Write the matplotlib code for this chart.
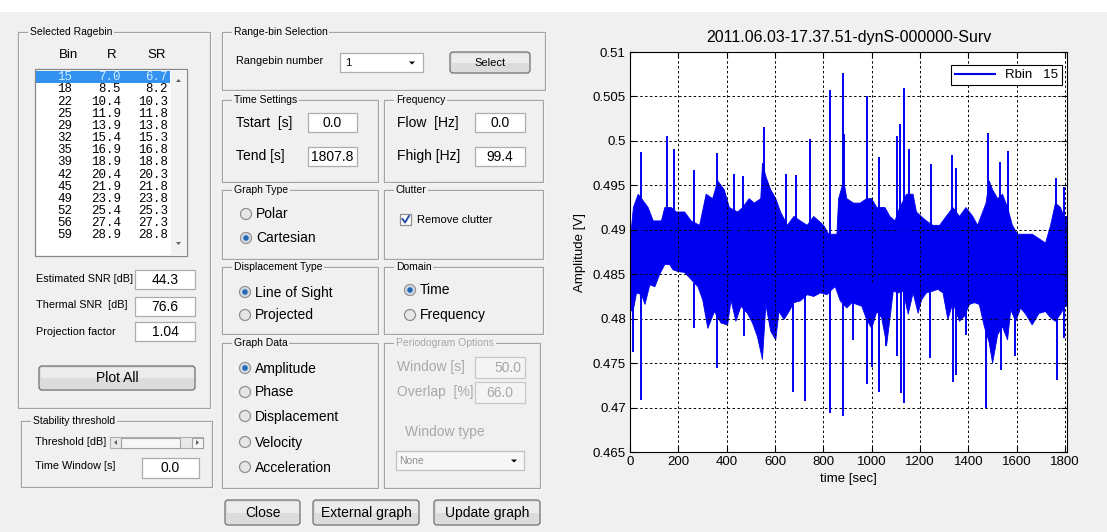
import numpy as np
import matplotlib
matplotlib.use("Agg")
import matplotlib.pyplot as plt
from matplotlib.patches import Rectangle, FancyBboxPatch, Circle, Polygon

plt.rcParams['font.family'] = ['Liberation Sans', 'DejaVu Sans']

# listbox content (Selected Ragebin)
bins = [15, 18, 22, 25, 29, 32, 35, 39, 42, 45, 49, 52, 56, 59]
r_vals = [7.0, 8.5, 10.4, 11.9, 13.9, 15.4, 16.9, 18.9, 20.4, 21.9, 23.9, 25.4, 27.4, 28.9]
sr_vals = [6.7, 8.2, 10.3, 11.8, 13.8, 15.3, 16.8, 18.8, 20.3, 21.8, 23.8, 25.3, 27.3, 28.8]

est_snr = "44.3"
thermal_snr = "76.6"
proj_factor = "1.04"
t_start, t_end = "0.0", "1807.8"
f_low, f_high = "0.0", "99.4"
time_window = "0.0"
pg_window, pg_overlap = "50.0", "66.0"

# signal: upper / lower envelope of the dense trace
up_t = [0, 14, 34, 48, 75, 96, 130, 144, 171, 192, 226, 253, 288, 315, 342, 363, 390, 411,
        445, 466, 493, 514, 541, 548, 562, 582, 603, 623, 651, 678, 705, 733, 760, 801,
        822, 856, 863, 884, 897, 925, 952, 979, 1000, 1021, 1055, 1075, 1096, 1116, 1144,
        1171, 1185, 1205, 1226, 1253, 1281, 1308, 1336, 1363, 1390, 1418, 1438, 1473,
        1486, 1500, 1521, 1541, 1562, 1582, 1603, 1637, 1664, 1692, 1719, 1740, 1760,
        1781, 1795, 1807.8]
up_v = [0.4885, 0.4925, 0.494, 0.4935, 0.4925, 0.491, 0.491, 0.4925, 0.4925, 0.492, 0.492,
        0.491, 0.4905, 0.494, 0.4935, 0.4955, 0.4945, 0.4925, 0.492, 0.4925, 0.4935, 0.493,
        0.4935, 0.4975, 0.496, 0.4945, 0.4935, 0.492, 0.4905, 0.4915, 0.491, 0.4905, 0.4915,
        0.4905, 0.4895, 0.4895, 0.4935, 0.4955, 0.4935, 0.493, 0.493, 0.4935, 0.4935,
        0.4925, 0.4925, 0.4915, 0.491, 0.4925, 0.494, 0.494, 0.492, 0.4915, 0.491, 0.4905,
        0.4905, 0.4915, 0.4925, 0.4915, 0.4925, 0.4915, 0.4905, 0.493, 0.4955, 0.4945,
        0.4935, 0.494, 0.4925, 0.4905, 0.4895, 0.4895, 0.4895, 0.489, 0.4885, 0.4905,
        0.493, 0.4925, 0.4915, 0.4915]
lo_t = [0, 14, 27, 48, 62, 82, 103, 123, 144, 164, 178, 199, 226, 253, 281, 301, 322, 349,
        377, 404, 418, 438, 459, 486, 507, 527, 548, 562, 582, 603, 616, 637, 658, 678, 705,
        733, 760, 788, 815, 836, 849, 870, 897, 918, 938, 959, 979, 1000, 1021, 1041, 1062,
        1075, 1089, 1110, 1130, 1151, 1171, 1192, 1206, 1226, 1253, 1274, 1295, 1315, 1336,
        1363, 1384, 1404, 1425, 1445, 1466, 1486, 1500, 1521, 1541, 1562, 1575, 1596, 1616,
        1637, 1664, 1692, 1719, 1740, 1760, 1781, 1799, 1807.8]
lo_v = [0.4808, 0.481, 0.4829, 0.4827, 0.4816, 0.4838, 0.4836, 0.485, 0.4861, 0.4861,
        0.4855, 0.4853, 0.4852, 0.4844, 0.4836, 0.4821, 0.4789, 0.4808, 0.4795, 0.4793,
        0.4821, 0.4797, 0.4814, 0.4806, 0.4795, 0.478, 0.4754, 0.4816, 0.4786, 0.4776,
        0.4808, 0.4799, 0.4808, 0.4818, 0.482, 0.4827, 0.4825, 0.4829, 0.4827, 0.4833,
        0.4836, 0.482, 0.4812, 0.4818, 0.4816, 0.4814, 0.4799, 0.4789, 0.4808, 0.4801,
        0.4771, 0.4799, 0.4831, 0.4829, 0.4831, 0.4805, 0.4829, 0.4806, 0.4821, 0.4829,
        0.4831, 0.4833, 0.4829, 0.4799, 0.4818, 0.4797, 0.4803, 0.4816, 0.4818, 0.4816,
        0.4791, 0.4773, 0.475, 0.4782, 0.4791, 0.4776, 0.481, 0.4797, 0.4812, 0.4805,
        0.4793, 0.4806, 0.4808, 0.4801, 0.4797, 0.4805, 0.4814, 0.4814]
spike_up_t = [45, 155, 182, 263, 358, 430, 468, 556, 645, 685, 744, 826, 881, 886, 979,
              1032, 1103, 1119, 1134, 1155, 1244, 1333, 1349, 1479, 1532, 1564, 1764, 1796]
spike_up_v = [0.4987, 0.5005, 0.4991, 0.4967, 0.4986, 0.4963, 0.496, 0.5016, 0.4963,
              0.4962, 0.5002, 0.5057, 0.5076, 0.5008, 0.505, 0.4982, 0.5006, 0.5019,
              0.5059, 0.4991, 0.4974, 0.4984, 0.497, 0.5009, 0.4976, 0.4989, 0.4958, 0.4948]
spike_dn_t = [11, 45, 264, 358, 470, 674, 726, 826, 882, 921, 981, 1000, 1032, 1058, 1103,
              1123, 1134, 1242, 1336, 1349, 1390, 1473, 1534, 1593, 1767, 1797]
spike_dn_v = [0.4763, 0.4709, 0.4789, 0.4744, 0.478, 0.4718, 0.4707, 0.4694, 0.469,
              0.4776, 0.4727, 0.4746, 0.4718, 0.4769, 0.4758, 0.4716, 0.4705, 0.4756,
              0.4729, 0.4737, 0.4782, 0.4699, 0.4742, 0.4758, 0.4731, 0.4778]

W, H = 1107, 532
BG = '#f0f0f0'
fig = plt.figure(figsize=(W / 100, H / 100), dpi=100, facecolor=BG)
gui = fig.add_axes([0, 0, 1, 1])
gui.set_xlim(0, W)
gui.set_ylim(H, 0)
gui.axis('off')
gui.add_patch(Rectangle((0, 0), W, 12, fc='white', ec='none'))


def frame(x0, y0, x1, y1, title, tc='black'):
    gui.add_patch(Rectangle((x0 + 1, y0 + 1), x1 - x0, y1 - y0, fill=False, ec='white', lw=0.9))
    gui.add_patch(Rectangle((x0, y0), x1 - x0, y1 - y0, fill=False, ec='#a3a3a3', lw=0.9))
    gui.text(x0 + 12, y0, title, fontsize=7.5, va='center', ha='left', color=tc,
             bbox=dict(fc=BG, ec='none', pad=1.2))


def edit(x0, y0, x1, y1, s, fs=10, ha='center', color='black', ec='#abadb3'):
    gui.add_patch(Rectangle((x0, y0), x1 - x0, y1 - y0, fc='white' if color == 'black' else '#f4f4f4',
                            ec=ec, lw=0.9))
    xx = (x0 + x1) / 2 if ha == 'center' else x1 - 4
    gui.text(xx, (y0 + y1) / 2 + 0.5, s, fontsize=fs, ha=ha, va='center', color=color)


def button(x0, y0, x1, y1, s, fs=10):
    gui.add_patch(FancyBboxPatch((x0, y0), x1 - x0, y1 - y0,
                                 boxstyle='round,pad=0,rounding_size=3',
                                 fc='#dcdcdc', ec='#707070', lw=0.9))
    gui.add_patch(Rectangle((x0 + 1.5, y0 + 1.5), x1 - x0 - 3, (y1 - y0) / 2 - 1.5,
                            fc='#ececec', ec='none'))
    gui.text((x0 + x1) / 2, (y0 + y1) / 2 + 0.5, s, fontsize=fs, ha='center', va='center')


def radio(x, y, s, on, fs=10):
    gui.add_patch(Circle((x, y), 5.5, fc='#e6e6e6', ec='#8e8f8f', lw=0.9))
    if on:
        gui.add_patch(Circle((x, y), 3.0, fc='#2464b4', ec='#8fb4e0', lw=0.7))
    gui.text(x + 10, y + 0.5, s, fontsize=fs, ha='left', va='center')


def arrow_down(cx, cy, c='black', s=3):
    gui.add_patch(Polygon([[cx - s, cy - s / 2], [cx + s, cy - s / 2], [cx, cy + s / 2]],
                          closed=True, fc=c, ec='none'))


# ---------------- left column ----------------
frame(18, 32, 210, 408, 'Selected Ragebin')
for lab, xc in zip(['Bin', 'R', 'SR'], [68, 112, 157]):
    gui.text(xc, 55, lab, fontsize=9.5, ha='center', va='center')

gui.add_patch(Rectangle((35, 69), 152, 187, fc='white', ec='#828790', lw=0.9))
gui.add_patch(Rectangle((171, 70), 15, 185, fc='#f2f2f2', ec='none'))
gui.add_patch(Polygon([[176, 82], [181, 82], [178.5, 79]], closed=True, fc='#606060', ec='none'))
gui.add_patch(Polygon([[176, 242], [181, 242], [178.5, 245]], closed=True, fc='#606060', ec='none'))
gui.add_patch(Rectangle((36, 70.5), 134, 12.5, fc='#3392f0', ec='none'))
for i, (b, r, sr) in enumerate(zip(bins, r_vals, sr_vals)):
    y = 77.3 + i * 12.15
    c = '#c9ecff' if i == 0 else 'black'
    for s, xr in zip([str(b), f"{r:.1f}", f"{sr:.1f}"], [72, 121, 168]):
        gui.text(xr, y, s, fontsize=9, family='Liberation Mono', ha='right', va='center', color=c)

gui.text(36, 279, 'Estimated SNR [dB]', fontsize=7.8, va='center')
edit(135, 270, 195, 289, est_snr)
gui.text(36, 305, 'Thermal SNR  [dB]', fontsize=7.8, va='center')
edit(135, 297, 195, 316, thermal_snr)
gui.text(36, 332, 'Projection factor', fontsize=7.8, va='center')
edit(135, 322, 195, 341, proj_factor)
button(39, 366, 195, 390, 'Plot All')

frame(21, 421, 212, 487, 'Stability threshold')
gui.text(35, 442, 'Threshold [dB]', fontsize=7.8, va='center')
gui.add_patch(Rectangle((110, 437), 93, 11, fc='#e8e8e8', ec='#b0b0b0', lw=0.8))
gui.add_patch(Rectangle((121, 437.5), 59, 10, fc='#f6f6f6', ec='#a0a0a0', lw=0.8))
gui.add_patch(Rectangle((192, 437.5), 11, 10, fc='#f6f6f6', ec='#a0a0a0', lw=0.8))
gui.add_patch(Polygon([[117, 440], [117, 445], [114, 442.5]], closed=True, fc='#606060', ec='none'))
gui.add_patch(Polygon([[196, 440], [196, 445], [199, 442.5]], closed=True, fc='#606060', ec='none'))
gui.text(35, 466, 'Time Window [s]', fontsize=7.8, va='center')
edit(142, 458, 199, 478, time_window)

# ---------------- middle column ----------------
frame(222, 32, 545, 90, 'Range-bin Selection')
gui.text(236, 61, 'Rangebin number', fontsize=7.8, va='center')
gui.add_patch(Rectangle((340, 53), 83, 19, fc='white', ec='#abadb3', lw=0.9))
gui.text(345, 63, '1', fontsize=8, va='center')
arrow_down(412, 63)
button(450, 52, 530, 73, 'Select', fs=8)

frame(222, 100, 378, 182, 'Time Settings')
gui.text(236, 123, 'Tstart  [s]', fontsize=10, va='center')
edit(308, 113, 357, 132, t_start)
gui.text(236, 156, 'Tend [s]', fontsize=10, va='center')
edit(308, 147, 357, 166, t_end)

frame(384, 100, 543, 182, 'Frequency')
gui.text(397, 123, 'Flow  [Hz]', fontsize=10, va='center')
edit(475, 113, 525, 132, f_low)
gui.text(397, 156, 'Fhigh [Hz]', fontsize=10, va='center')
edit(475, 147, 525, 166, f_high)

frame(222, 190, 378, 259, 'Graph Type')
radio(246, 214, 'Polar', False)
radio(246, 238, 'Cartesian', True)

frame(384, 190, 543, 259, 'Clutter')
gui.add_patch(Rectangle((400, 214), 11, 11, fc='white', ec='#8e8f8f', lw=0.9))
gui.plot([402.5, 405, 409], [219, 222.5, 216], color='#2a4fa8', lw=1.4)
gui.text(417, 220, 'Remove clutter', fontsize=8, va='center')

frame(222, 267, 378, 334, 'Displacement Type')
radio(245, 292, 'Line of Sight', True)
radio(245, 315, 'Projected', False)

frame(384, 267, 543, 334, 'Domain')
radio(410, 290, 'Time', True)
radio(410, 315, 'Frequency', False)

frame(222, 343, 378, 488, 'Graph Data')
for lab, y, on in [('Amplitude', 368, True), ('Phase', 392, False),
                   ('Displacement', 416, False), ('Velocity', 442, False),
                   ('Acceleration', 467, False)]:
    radio(245, y, lab, on)

grey = '#a8a8a8'
frame(384, 343, 540, 488, 'Periodogram Options', tc=grey)
gui.text(397, 367, 'Window [s]', fontsize=10, va='center', color=grey)
edit(475, 357, 525, 378, pg_window, ha='right', color=grey, ec='#c8c8c8')
gui.text(397, 392, 'Overlap  [%]', fontsize=10, va='center', color=grey)
edit(475, 382, 525, 403, pg_overlap, color=grey, ec='#c8c8c8')
gui.text(445, 432, 'Window type', fontsize=10, ha='center', va='center', color=grey)
gui.add_patch(Rectangle((396, 451), 128, 19, fc='#f7f7f7', ec='#c0c0c0', lw=0.9))
gui.text(399, 461, 'None', fontsize=7.5, va='center', color='#909090')
arrow_down(514, 461)

button(225, 500, 300, 525, 'Close')
button(313, 500, 419, 525, 'External graph')
button(434, 500, 540, 525, 'Update graph')

# ---------------- plot ----------------
ax = fig.add_axes([630 / W, 1 - 452 / H, 437 / W, 400 / H])
ax.set_facecolor('white')
blue = '#0000f0'
ax.fill(np.r_[up_t, lo_t[::-1]], np.r_[up_v, lo_v[::-1]], color=blue, lw=0.6)
ax.vlines(spike_up_t, 0.488, spike_up_v, color=blue, lw=1.4)
ax.vlines(spike_dn_t, 0.484, spike_dn_v, color=blue, lw=1.4)
ax.plot([], [], color=blue, lw=1.5, label='Rbin   15')

ax.set_xlim(0, 1807.8)
ax.set_ylim(0.465, 0.51)
xt = np.arange(0, 1801, 200)
yt = np.arange(0.465, 0.5101, 0.005)
ax.set_xticks(xt)
ax.set_xticklabels([str(v) for v in xt])
ax.set_yticks(yt)
ax.set_yticklabels([f"{v:.3f}".rstrip('0').rstrip('.') for v in yt])
ax.tick_params(direction='in', length=4, width=0.8, top=True, right=True, labelsize=9.5, pad=3)
ax.grid(True, color='black', linestyle=(0, (2.5, 2.5)), lw=0.7)
for sp in ax.spines.values():
    sp.set_linewidth(0.8)
ax.set_title('2011.06.03-17.37.51-dynS-000000-Surv', fontsize=11.5, pad=7)
ax.set_xlabel('time [sec]', fontsize=9.5)
ax.xaxis.set_label_coords(0.5, -0.052)
ax.set_ylabel('Amplitude [V]', fontsize=9.5)
ax.yaxis.set_label_coords(-0.1, 0.5)
leg = ax.legend(loc='upper right', bbox_to_anchor=(0.9886, 0.9675), fontsize=9.5,
                fancybox=False, edgecolor='black', framealpha=1, handlelength=3,
                borderaxespad=0, borderpad=0.3)
leg.get_frame().set_linewidth(0.8)

fig.savefig('out.png', dpi=100, facecolor=BG)
